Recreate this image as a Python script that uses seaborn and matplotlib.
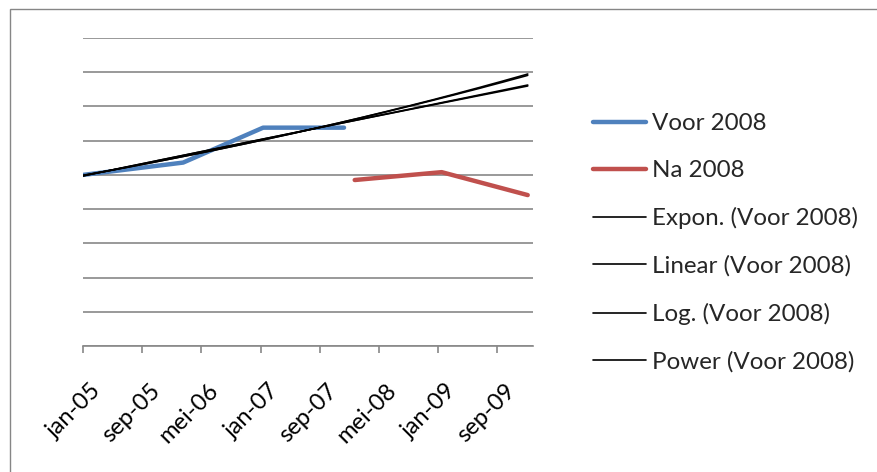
import numpy as np
import pandas as pd
import matplotlib
matplotlib.use("Agg")
import matplotlib.pyplot as plt
import matplotlib.transforms as mtrans
from matplotlib.patches import Rectangle
import seaborn as sns

# Series values
voor_dates = ["2005-01-01", "2006-02-16", "2007-01-11", "2007-12-10"]
voor_values = [5.00, 5.36, 6.38, 6.38]
na_dates = ["2008-01-23", "2009-01-15", "2010-01-04"]
na_values = [4.85, 5.08, 4.41]

# Axis ticks
tick_dates = ["2005-01-01", "2005-09-01", "2006-05-01", "2007-01-01",
              "2007-09-01", "2008-05-01", "2009-01-01", "2009-09-01"]
tick_labels = ["jan-05", "sep-05", "mei-06", "jan-07",
               "sep-07", "mei-08", "jan-09", "sep-09"]

series_names = ["Voor 2008", "Na 2008"]
trend_names = ["Expon. (Voor 2008)", "Linear (Voor 2008)",
               "Log. (Voor 2008)", "Power (Voor 2008)"]

BLUE = "#4F81BD"
RED = "#C0504D"
GRID = "#888888"
FS = 17
LEG_FS = 17.4

W, H, DPI = 877, 472, 100
sns.set_theme(style="white")
plt.rcParams["font.family"] = ["Lato", "DejaVu Sans"]

fig = plt.figure(figsize=(W / DPI, H / DPI), dpi=DPI)
fig.patch.set_facecolor("white")
ax = fig.add_axes([83.3 / W, 1 - 346 / H, 450 / W, 308 / H])


def serial(dates):
    """Spreadsheet-style day numbers used for the trend fits."""
    d = pd.to_datetime(dates) - pd.Timestamp("1899-12-30")
    return np.asarray(d.days, dtype=float)


voor_df = pd.DataFrame({"date": pd.to_datetime(voor_dates), "value": voor_values})
na_df = pd.DataFrame({"date": pd.to_datetime(na_dates), "value": na_values})

sns.lineplot(data=voor_df, x="date", y="value", ax=ax, color=BLUE, lw=3.2,
             solid_capstyle="round", solid_joinstyle="round", label=series_names[0])
sns.lineplot(data=na_df, x="date", y="value", ax=ax, color=RED, lw=3.2,
             solid_capstyle="round", solid_joinstyle="round", label=series_names[1])

# Trend lines fitted on the "Voor 2008" series, extended to the last date
xs = serial(voor_dates)
ys = np.asarray(voor_values, dtype=float)
grid_dates = pd.date_range(voor_dates[0], na_dates[-1], periods=200)
xg = serial(grid_dates)

c_exp = np.polyfit(xs, np.log(ys), 1)
c_lin = np.polyfit(xs, ys, 1)
c_log = np.polyfit(np.log(xs), ys, 1)
c_pow = np.polyfit(np.log(xs), np.log(ys), 1)
trends = [
    np.exp(np.polyval(c_exp, xg)),
    np.polyval(c_lin, xg),
    np.polyval(c_log, np.log(xg)),
    np.exp(np.polyval(c_pow, np.log(xg))),
]
for name, yv in zip(trend_names, trends):
    tdf = pd.DataFrame({"date": grid_dates, "value": yv})
    sns.lineplot(data=tdf, x="date", y="value", ax=ax, color="black", lw=1.2,
                 label=name)

# Axes styling
ax.set_ylim(0, 9)
ax.set_yticks(range(0, 10))
ax.set_yticklabels([])
ax.set_xlim(pd.Timestamp("2005-01-01"), pd.Timestamp("2010-01-27"))
ax.set_xlabel("")
ax.set_ylabel("")
ax.grid(axis="y", color=GRID, lw=1.2)
ax.grid(axis="x", visible=False)
ax.set_axisbelow(True)
for side in ("left", "top", "right"):
    ax.spines[side].set_visible(False)
ax.spines["bottom"].set_color(GRID)
ax.spines["bottom"].set_linewidth(1.2)
ax.tick_params(axis="y", length=0)
ax.tick_params(axis="x", direction="out", length=5, width=1.2, color=GRID,
               pad=19.5, labelsize=FS, labelcolor="black", bottom=True)

ax.set_xticks(pd.to_datetime(tick_dates))
ax.set_xticklabels(tick_labels)
shift = mtrans.ScaledTranslation(7 / DPI, 0, fig.dpi_scale_trans)
for lab in ax.get_xticklabels():
    lab.set_rotation(45)
    lab.set_ha("right")
    lab.set_va("top")
    lab.set_rotation_mode("anchor")
    lab.set_transform(lab.get_transform() + shift)

ax.get_legend().remove()
handles, labels = ax.get_legend_handles_labels()
fig.legend(handles, labels, loc="upper left",
           bbox_to_anchor=(593 / W, 1 - 113.3 / H), frameon=False,
           borderpad=0, borderaxespad=0, handlelength=2.21, handletextpad=0.25,
           labelspacing=1.076, fontsize=LEG_FS)

# Chart-area border
fig.add_artist(Rectangle((10 / W, -0.1), 1.2, 1.1 - 9 / H, transform=fig.transFigure,
                         fill=False, edgecolor="#868686", lw=1.0, clip_on=False))

fig.savefig("out.png", dpi=DPI, facecolor="white")
